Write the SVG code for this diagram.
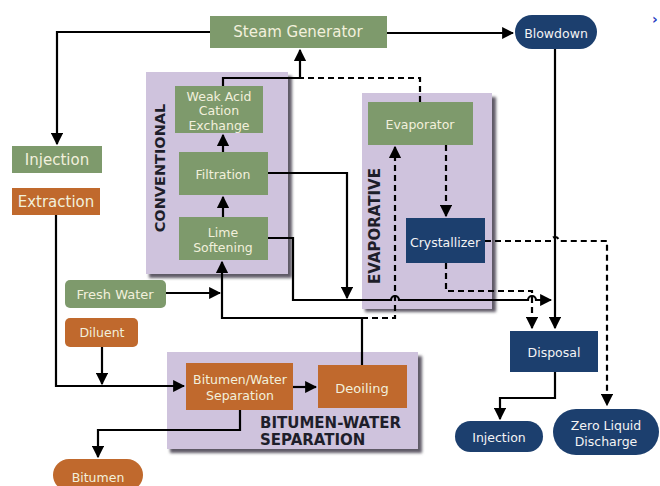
<svg xmlns="http://www.w3.org/2000/svg" width="660" height="486" viewBox="0 0 660 486">
<defs>
<style>
.g{fill:#7e9a6c}
.o{fill:#c0692d}
.n{fill:#1c3f6e}
.p{fill:#cfc3dd}
.sh{fill:#5f5a66;filter:url(#blur)}
.t{font-family:"DejaVu Sans",Verdana,sans-serif;font-size:12.5px;text-anchor:middle;dominant-baseline:central}
.tl{fill:#f2f0dc}
.tw{fill:#f4f4f4}
.lb{font-family:"DejaVu Sans",Verdana,sans-serif;font-size:15px;font-weight:bold;fill:#1e1e2a}
.c{fill:none;stroke:#000;stroke-width:2.2}
.d{fill:none;stroke:#000;stroke-width:2.2;stroke-dasharray:6 4}
</style>
<filter id="blur" x="-10%" y="-10%" width="130%" height="130%"><feGaussianBlur stdDeviation="1.5"/></filter>
<marker id="a" viewBox="0 0 10 10" refX="9" refY="5" markerWidth="5.5" markerHeight="5.5" orient="auto" markerUnits="strokeWidth"><path d="M0,0 L10,5 L0,10 z" fill="#000"/></marker>
</defs>

<g id="conventional">
<rect class="sh" x="149" y="76" width="143" height="202"/>
<rect class="p" x="146" y="72" width="142" height="202"/>
<text class="lb" transform="translate(160,168) rotate(-90)" text-anchor="middle" dominant-baseline="central" style="font-size:14.5px">CONVENTIONAL</text>
</g>
<g id="evaporative">
<rect class="sh" x="365" y="97" width="131" height="215"/>
<rect class="p" x="362" y="93" width="130" height="216"/>
<text class="lb" transform="translate(375,226) rotate(-90)" text-anchor="middle" dominant-baseline="central">EVAPORATIVE</text>
</g>
<g id="bitumen-water-separation">
<rect class="sh" x="170" y="356" width="252" height="97"/>
<rect class="p" x="167" y="352" width="251" height="97"/>
<text class="lb" x="260" y="428">BITUMEN-WATER</text>
<text class="lb" x="260" y="445">SEPARATION</text>
</g>

<g id="connectors">
<path class="c" d="M210,32 H57 V144" marker-end="url(#a)"/>
<path class="c" d="M387,33 H513" marker-end="url(#a)"/>
<path class="c" d="M223,86 V78 H300 V50" marker-end="url(#a)"/>
<path class="d" d="M420,102 V78 H300"/>
<path class="c" d="M223,217 V197" marker-end="url(#a)"/>
<path class="c" d="M223,152 V135" marker-end="url(#a)"/>
<path class="d" d="M446,145 V216" marker-end="url(#a)"/>
<path class="c" d="M268,173 H347 V298" marker-end="url(#a)"/>
<path class="c" d="M268,238 H293 V300 H391 a4,4 0 0 1 8,0 H528 a4,4 0 0 1 8,0 H551" marker-end="url(#a)"/>
<path class="c" d="M555,49 V328" marker-end="url(#a)"/>
<path class="d" d="M485,241 H551 a4,4 0 0 1 8,0 H607 V405" marker-end="url(#a)"/>
<path class="d" d="M446,263 V291 H532 V328" marker-end="url(#a)"/>
<path class="c" d="M362,365 V318 H222 V262" marker-end="url(#a)"/>
<path class="d" d="M362,318 H395 V147" marker-end="url(#a)"/>
<path class="c" d="M166,293 H220" marker-end="url(#a)"/>
<path class="c" d="M56,215 V386 H184" marker-end="url(#a)"/>
<path class="c" d="M102,347 V384" marker-end="url(#a)"/>
<path class="c" d="M293,387 H316" marker-end="url(#a)"/>
<path class="c" d="M240,410 V430 H98 V457" marker-end="url(#a)"/>
<path class="c" d="M555,372 V398 H500 V419" marker-end="url(#a)"/>
</g>

<g id="steam-generator"><rect class="g" x="210" y="16" width="177" height="32"/><text class="t tl" x="298" y="32" style="font-size:15px">Steam Generator</text></g>
<g id="blowdown"><rect class="n" x="515" y="15" width="82" height="34" rx="17"/><text class="t tw" x="556" y="33">Blowdown</text></g>
<g id="injection-top"><rect class="g" x="12" y="146" width="90" height="27"/><text class="t tl" x="57" y="160" style="font-size:15px">Injection</text></g>
<g id="extraction"><rect class="o" x="12" y="188" width="88" height="27"/><text class="t tl" x="56" y="202" style="font-size:15px">Extraction</text></g>
<g id="weak-acid"><rect class="g" x="175" y="86" width="88" height="47"/><text class="t tl" x="219" y="96">Weak Acid</text><text class="t tl" x="219" y="110">Cation</text><text class="t tl" x="219" y="125">Exchange</text></g>
<g id="filtration"><rect class="g" x="179" y="152" width="89" height="43"/><text class="t tl" x="223" y="174">Filtration</text></g>
<g id="lime-softening"><rect class="g" x="179" y="217" width="89" height="43"/><text class="t tl" x="223" y="232">Lime</text><text class="t tl" x="223" y="247">Softening</text></g>
<g id="evaporator"><rect class="g" x="368" y="102" width="105" height="43"/><text class="t tl" x="420" y="124">Evaporator</text></g>
<g id="crystallizer"><rect class="n" x="406" y="218" width="79" height="45"/><text class="t tw" x="445" y="242">Crystallizer</text></g>
<g id="fresh-water"><rect class="g" x="65" y="280" width="101" height="28" rx="5"/><text class="t tl" x="115" y="294" style="font-size:13px">Fresh Water</text></g>
<g id="diluent"><rect class="o" x="65" y="318" width="73" height="29" rx="5"/><text class="t tl" x="102" y="332">Diluent</text></g>
<g id="bitumen-water-sep"><rect class="o" x="186" y="363" width="107" height="47"/><text class="t tl" x="240" y="379">Bitumen/Water</text><text class="t tl" x="240" y="395">Separation</text></g>
<g id="deoiling"><rect class="o" x="318" y="365" width="89" height="43"/><text class="t tl" x="362" y="388" style="font-size:13px">Deoiling</text></g>
<g id="bitumen"><rect class="o" x="53" y="459" width="90" height="32" rx="16"/><text class="t tl" x="98" y="477">Bitumen</text></g>
<g id="disposal"><rect class="n" x="510" y="331" width="88" height="41"/><text class="t tw" x="554" y="352">Disposal</text></g>
<g id="injection-bottom"><rect class="n" x="455" y="421" width="88" height="31" rx="15.5"/><text class="t tw" x="499" y="437">Injection</text></g>
<g id="zld"><rect class="n" x="553" y="409" width="106" height="46" rx="23"/><text class="t tw" x="606" y="425">Zero Liquid</text><text class="t tw" x="606" y="441">Discharge</text></g>
<text x="655" y="19" font-family="DejaVu Sans,sans-serif" font-size="14" font-weight="bold" fill="#2b3fc4" text-anchor="middle" dominant-baseline="central">›</text>
</svg>
